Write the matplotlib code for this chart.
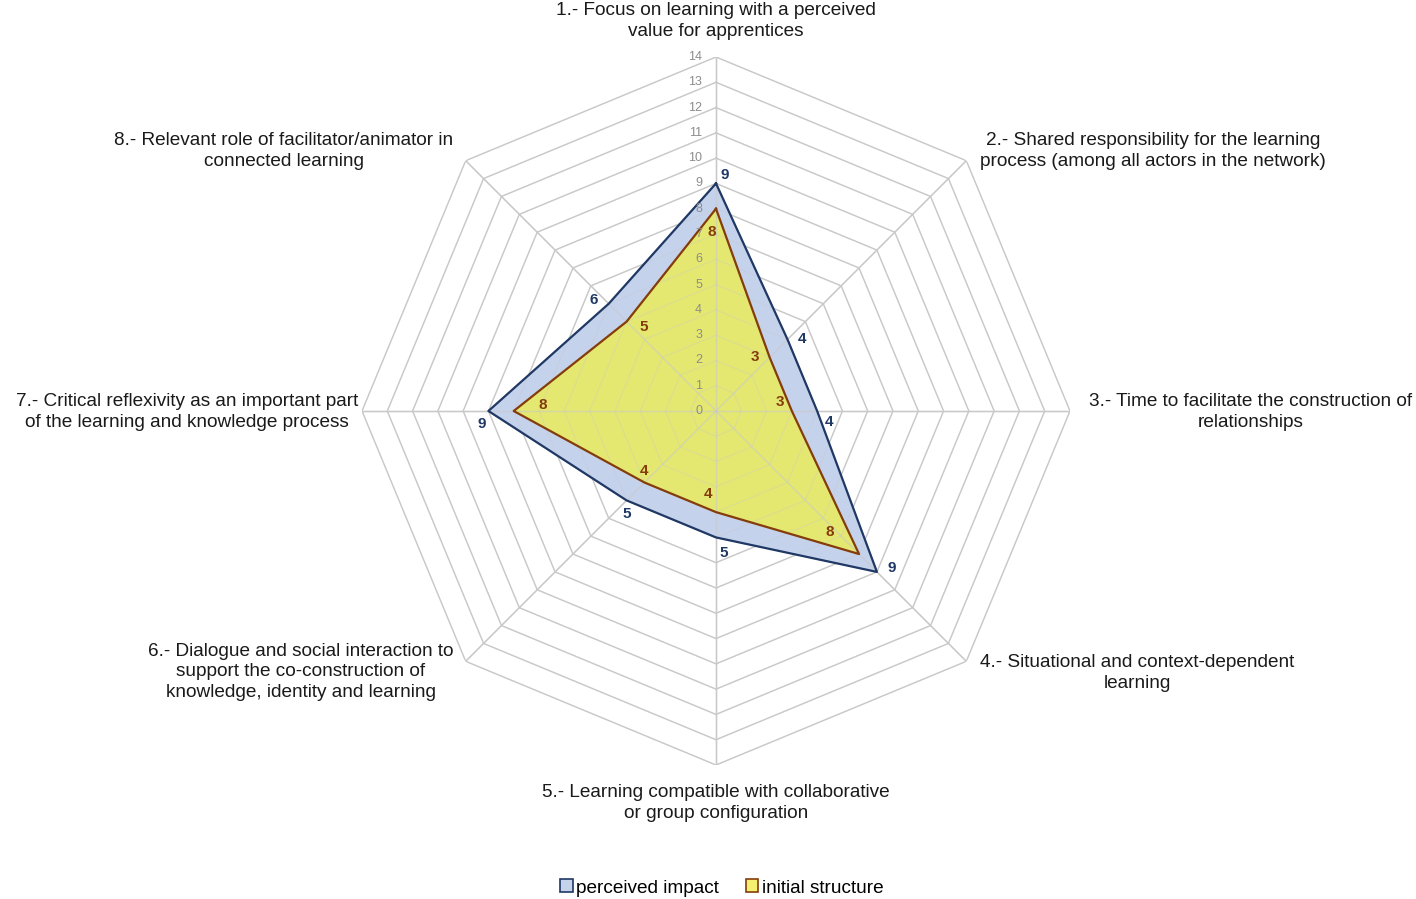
import numpy as np
import matplotlib
matplotlib.use("Agg")
import matplotlib.pyplot as plt
from matplotlib.patches import Patch

plt.rcParams['font.family'] = ['Liberation Sans', 'DejaVu Sans']

categories = [
    "1.- Focus on learning with a perceived\nvalue for apprentices",
    "2.- Shared responsibility for the learning\nprocess (among all actors in the network)",
    "3.- Time to facilitate the construction of\nrelationships",
    "4.- Situational and context-dependent\nlearning",
    "5.- Learning compatible with collaborative\nor group configuration",
    "6.- Dialogue and social interaction to\nsupport the co-construction of\nknowledge, identity and learning",
    "7.- Critical reflexivity as an important part\nof the learning and knowledge process",
    "8.- Relevant role of facilitator/animator in\nconnected learning",
]
perceived_impact = [9, 4, 4, 9, 5, 5, 9, 6]
initial_structure = [8, 3, 3, 8, 4, 4, 8, 5]
radial_ticks = list(range(0, 15))
series_names = ["perceived impact", "initial structure"]

W, H = 1416, 899
fig = plt.figure(figsize=(W / 100, H / 100), dpi=100)
cx, cy, R = 716, 411, 354
ax = fig.add_axes([(cx - R) / W, (H - cy - R) / H, 2 * R / W, 2 * R / H], projection='polar')
ax.set_theta_zero_location('N')
ax.set_theta_direction(-1)
ax.set_ylim(0, 14)
ax.grid(False)
ax.spines['polar'].set_visible(False)
ax.set_xticks([])
ax.set_yticks([])
ax.patch.set_alpha(0)

n = len(categories)
theta = np.arange(n) * 2 * np.pi / n
tc = np.append(theta, theta[0])

grid_col = '#c9c9c9'
for lev in radial_ticks[1:]:
    ax.plot(tc, [lev] * (n + 1), color=grid_col, lw=1.0, zorder=1)
for t in theta:
    ax.plot([t, t], [0, 14], color=grid_col, lw=1.0, zorder=1)

blue_fill, blue_line = '#c5d2ec', '#1f3864'
yel_fill, yel_line = '#e4e870', '#843c0c'

pi_c = perceived_impact + perceived_impact[:1]
is_c = initial_structure + initial_structure[:1]
ax.fill(tc, pi_c, color=blue_fill, zorder=2)
ax.fill(tc, is_c, color=yel_fill, zorder=3)
for t in theta:
    ax.plot([t, t], [0, 14], color='#c9c9c9', lw=1.0, zorder=3.5, alpha=0.6)
for lev in radial_ticks[1:]:
    ax.plot(tc, [lev] * (n + 1), color='#c9c9c9', lw=0.8, zorder=3.5, alpha=0.35)
ax.plot(tc, pi_c, color=blue_line, lw=1.6, zorder=4)
ax.plot(tc, is_c, color=yel_line, lw=1.6, zorder=5)

for v in radial_ticks:
    ax.annotate(str(v), xy=(0, v), xytext=(-14, 0), textcoords='offset pixels',
                ha='right', va='center', fontsize=9, color='#8c8c8c', zorder=6)

blue_off = [(9, 8), (14, 0), (12, -11), (15, 4), (8, -16), (0, -14), (-7, -13), (-15, 4)]
brown_off = [(-4, -23), (-15, 0), (-12, 9), (-29, 22), (-8, 18), (0, 12), (29, 6), (17, -5)]
for i in range(n):
    ax.annotate(str(perceived_impact[i]), xy=(theta[i], perceived_impact[i]),
                xytext=blue_off[i], textcoords='offset pixels', ha='center', va='center',
                fontsize=11, fontweight='bold', color=blue_line, zorder=7)
    ax.annotate(str(initial_structure[i]), xy=(theta[i], initial_structure[i]),
                xytext=brown_off[i], textcoords='offset pixels', ha='center', va='center',
                fontsize=11, fontweight='bold', color=yel_line, zorder=7)

label_pos = [(716, 21), (1153, 151), (1251, 412), (1137, 673), (716, 803),
             (301, 672), (187, 412), (284, 151)]
for lab, (x, y) in zip(categories, label_pos):
    fig.text(x / W, 1 - y / H, lab, ha='center', va='center', fontsize=13.7,
             color='#1a1a1a', linespacing=1.26)

handles = [Patch(facecolor=blue_fill, edgecolor=blue_line, lw=1.2),
           Patch(facecolor='#f5f070', edgecolor=yel_line, lw=1.2)]
fig.legend(handles, series_names, loc='center', bbox_to_anchor=(722 / W, 1 - 888 / H),
           ncol=2, frameon=False, fontsize=13.7, handlelength=0.65, handleheight=0.65,
           handletextpad=0.2, columnspacing=1.4)

fig.savefig('out.png', dpi=100)
